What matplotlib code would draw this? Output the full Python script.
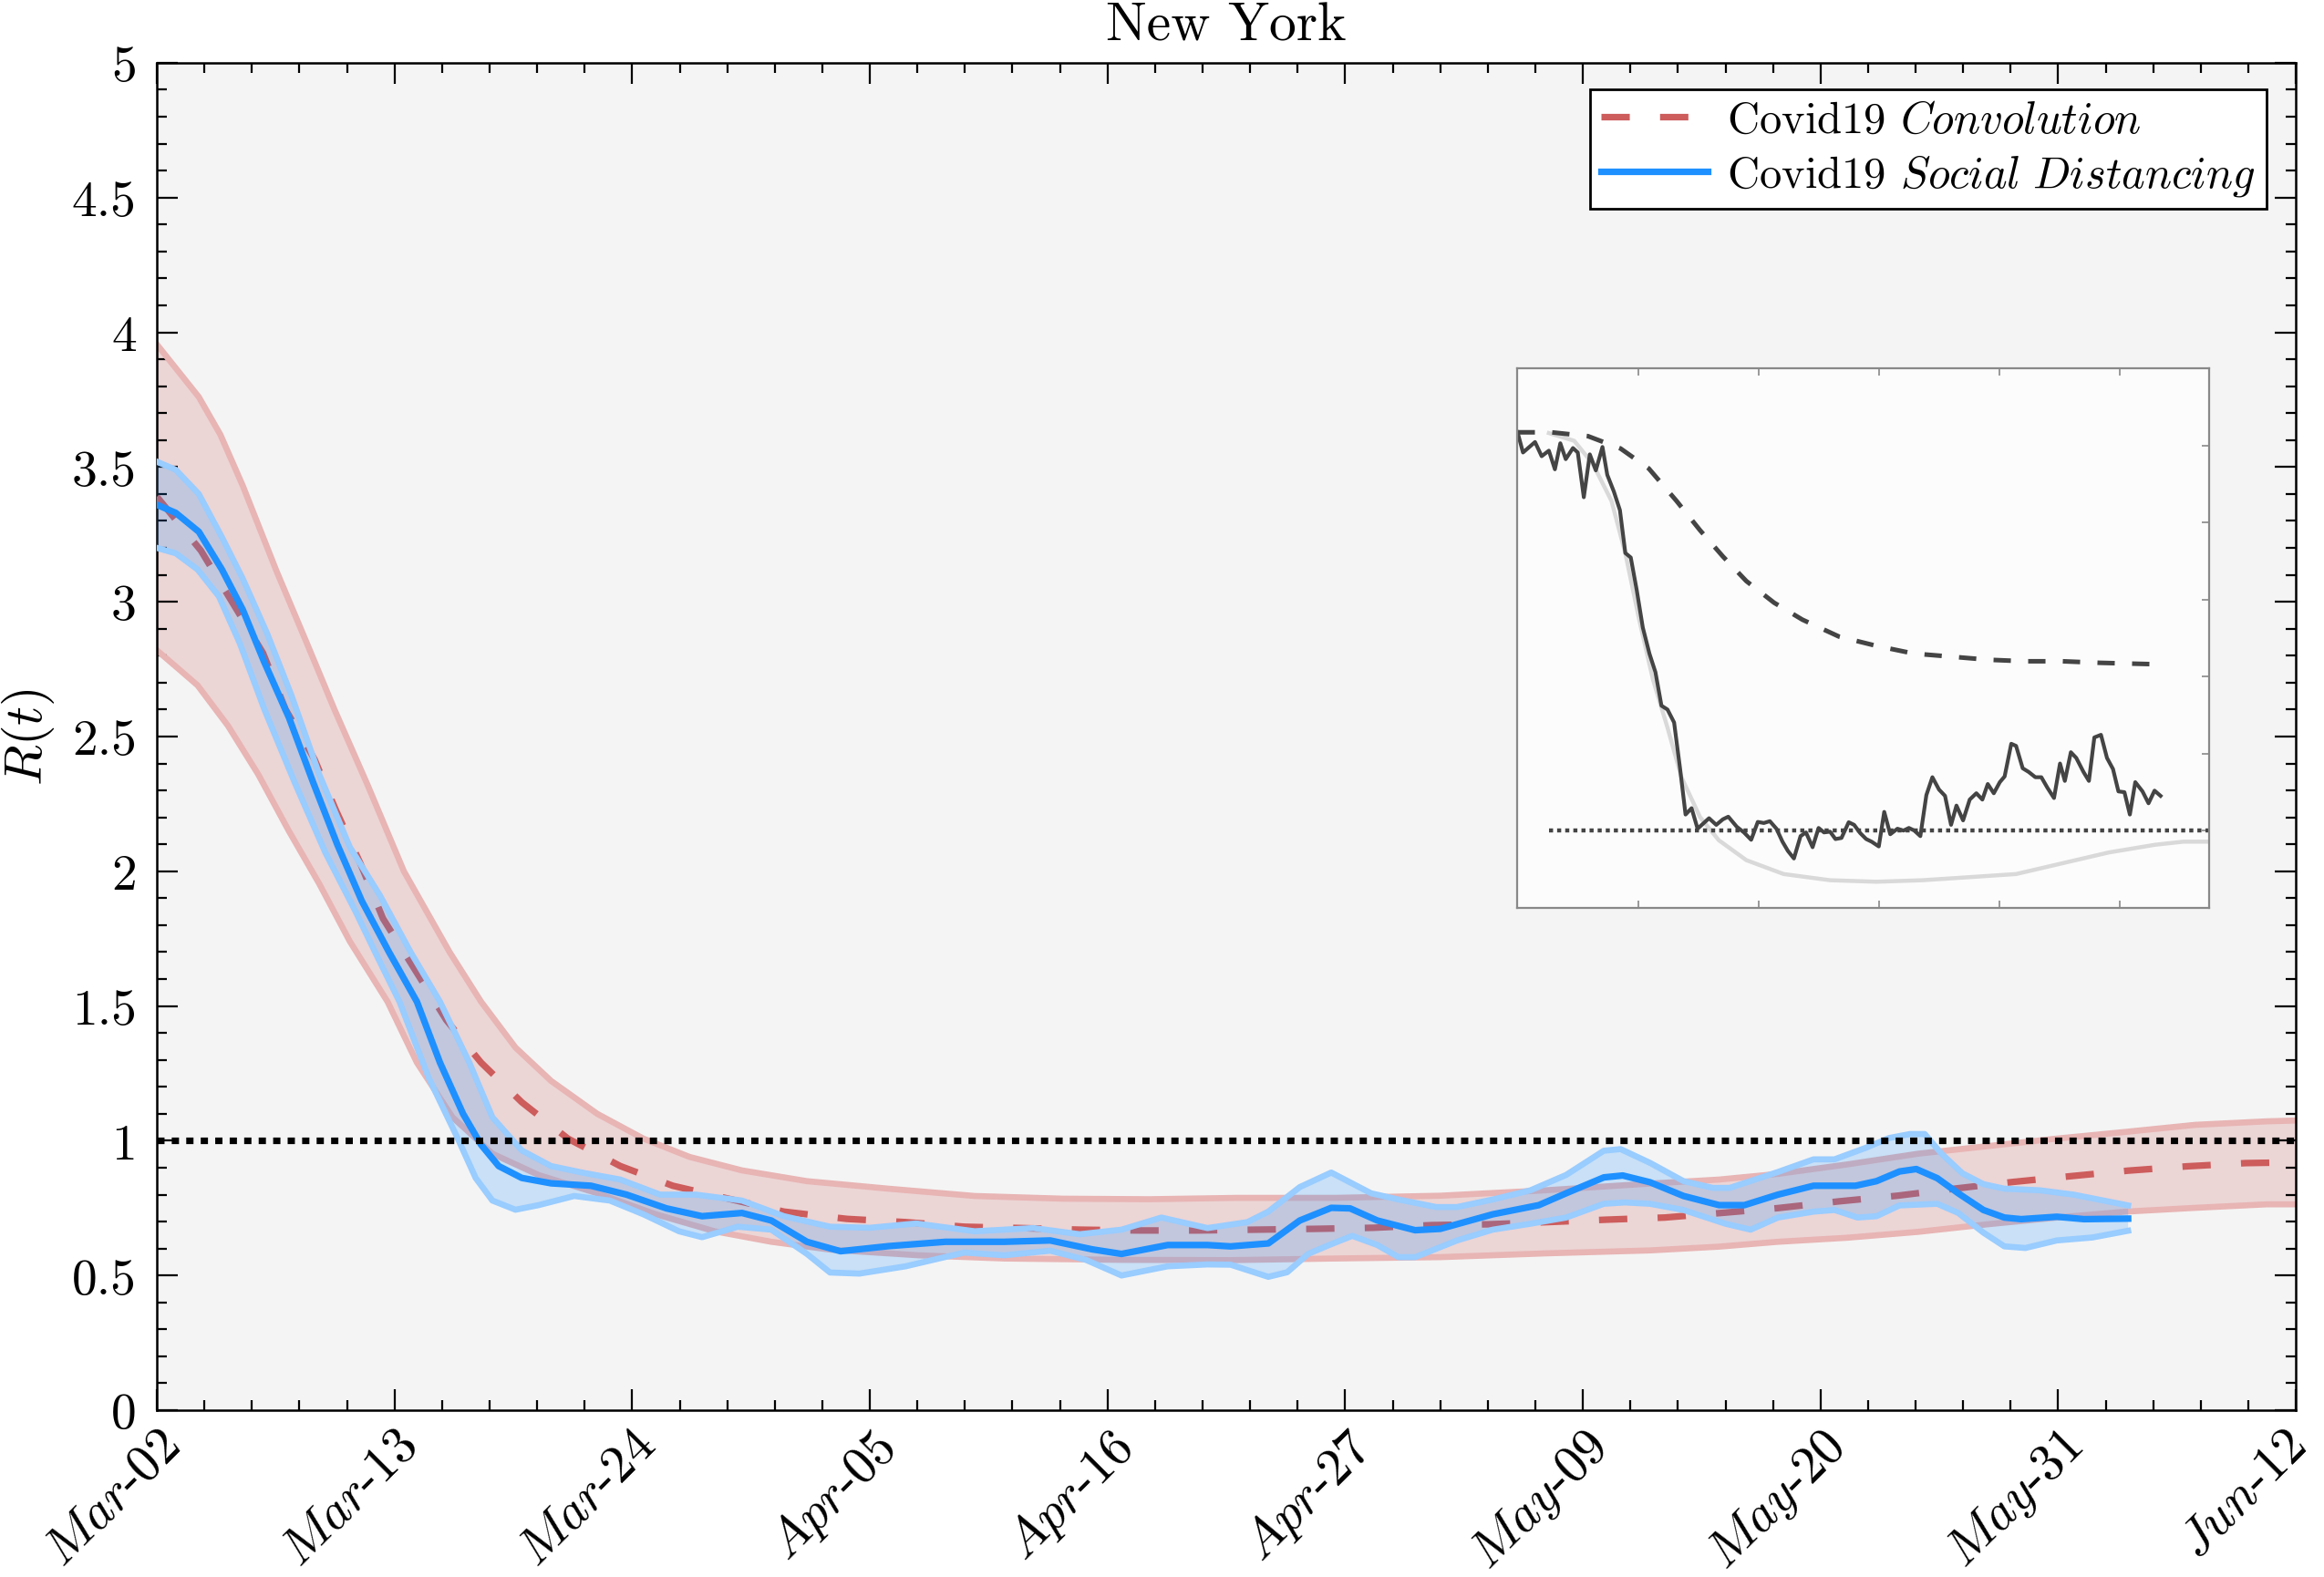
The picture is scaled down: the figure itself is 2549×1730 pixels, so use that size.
import numpy as np
import matplotlib
matplotlib.use("Agg")
import matplotlib.pyplot as plt
import matplotlib.transforms as mtransforms
from matplotlib.ticker import MultipleLocator, AutoMinorLocator, FuncFormatter

plt.rcParams["mathtext.fontset"] = "cm"
plt.rcParams["font.family"] = "serif"
plt.rcParams["font.serif"] = ["cmr10"]
plt.rcParams["axes.formatter.use_mathtext"] = True

# ── Data (days since Mar-02) ───────────────────────────────────────────────

date_labels = ["Mar-02", "Mar-13", "Mar-24", "Apr-05", "Apr-16",
               "Apr-27", "May-09", "May-20", "May-31", "Jun-12"]
n_days = 102

# Convolution model: mean and band
conv_x = [0, 2.1, 5.06, 6.14, 7.52, 8.54, 9.7, 10.78, 13.8, 15.46, 17.4, 19.6,
          22.1, 24.6, 29.9, 32.9, 35.7, 38.5, 41.2, 44.0, 46.8, 49.6, 52.4,
          55.2, 58.0, 60.8, 63.5, 66.3, 69.1, 71.9, 74.6, 77.3, 80.2, 83.0,
          85.7, 88.5, 91.2, 94.0, 96.8, 99.6, 102]
conv_y = [3.39, 3.19, 2.81, 2.60, 2.415, 2.226, 2.03, 1.825, 1.448, 1.29, 1.143,
          1.008, 0.906, 0.833, 0.737, 0.71, 0.698, 0.681, 0.676, 0.67, 0.667,
          0.667, 0.670, 0.673, 0.677, 0.687, 0.69, 0.698, 0.707, 0.715, 0.732,
          0.75, 0.775, 0.796, 0.822, 0.847, 0.868, 0.889, 0.905, 0.917, 0.92]

conv_hi_x = [0, 2.0, 3.03, 4.1, 5.7, 7.16, 8.47, 10.05, 11.78, 13.96, 15.46,
             17.1, 18.8, 21.0, 23.2, 25.4, 27.9, 31.0, 34.9, 39.0, 43.2, 47.3,
             51.5, 56.2, 61.2, 66.2, 71.2, 74.5, 77.3, 80.6, 84.0, 87.3, 90.6,
             93.9, 97.2, 100.6, 102]
conv_hi_y = [3.955, 3.76, 3.62, 3.43, 3.115, 2.845, 2.60, 2.32, 2.0, 1.70, 1.516,
             1.346, 1.222, 1.10, 1.008, 0.94, 0.89, 0.85, 0.822, 0.795, 0.785,
             0.783, 0.788, 0.788, 0.796, 0.816, 0.841, 0.856, 0.877, 0.912,
             0.952, 0.98, 1.008, 1.033, 1.059, 1.072, 1.075]

conv_lo_x = [0, 0.9, 1.94, 3.39, 4.83, 6.29, 7.74, 9.2, 11.0, 12.4, 14.1, 16.0,
             18.2, 21.0, 23.8, 26.6, 29.3, 32.1, 36.3, 40.4, 46.0, 51.2, 56.2,
             61.2, 66.2, 71.2, 74.5, 77.3, 80.6, 84.0, 87.3, 90.6, 93.9, 97.2,
             100.6, 102]
conv_lo_y = [2.82, 2.76, 2.69, 2.54, 2.36, 2.15, 1.954, 1.74, 1.516, 1.29, 1.087,
             0.952, 0.873, 0.805, 0.727, 0.664, 0.625, 0.596, 0.575, 0.563,
             0.558, 0.557, 0.563, 0.568, 0.582, 0.593, 0.607, 0.625, 0.64,
             0.662, 0.69, 0.715, 0.737, 0.751, 0.764, 0.764]

# Social distancing model: mean and band
sd_x = [0, 0.9, 2.0, 3.1, 4.1, 5.1, 6.3, 7.45, 8.6, 9.77, 11.07, 12.4, 13.5,
        14.6, 15.46, 16.3, 17.4, 18.8, 20.7, 22.4, 24.3, 26.0, 27.9, 29.3,
        31.0, 32.6, 34.9, 37.6, 40.4, 42.6, 44.6, 46.0, 48.2, 50.1, 51.2,
        53.0, 54.5, 56.0, 56.9, 58.2, 60.0, 61.2, 63.7, 65.9, 67.2, 69.0,
        69.9, 71.2, 72.8, 74.5, 75.7, 77.3, 79.0, 81.0, 82.0, 83.1, 83.9,
        84.9, 85.9, 87.1, 88.1, 88.9, 90.6, 91.9, 94.0]
sd_y = [3.36, 3.33, 3.26, 3.12, 2.97, 2.78, 2.57, 2.33, 2.10, 1.89, 1.70, 1.516,
        1.29, 1.10, 0.985, 0.906, 0.862, 0.842, 0.833, 0.80, 0.749, 0.72,
        0.732, 0.704, 0.625, 0.59, 0.609, 0.625, 0.625, 0.63, 0.597, 0.58,
        0.613, 0.613, 0.608, 0.619, 0.704, 0.751, 0.749, 0.704, 0.668, 0.673,
        0.727, 0.761, 0.805, 0.864, 0.871, 0.846, 0.795, 0.761, 0.761, 0.80,
        0.833, 0.833, 0.85, 0.886, 0.895, 0.861, 0.805, 0.743, 0.715, 0.709,
        0.718, 0.709, 0.711]

sd_hi_x = [0, 0.9, 2.0, 3.1, 4.1, 5.27, 6.43, 7.74, 9.2, 10.64, 12.1, 13.5,
           14.9, 16.0, 17.4, 18.8, 20.4, 22.1, 24.0, 25.7, 27.9, 29.9, 32.1,
           34.0, 36.2, 39.0, 41.8, 44.0, 46.0, 47.9, 50.1, 52.0, 53.0, 54.5,
           56.0, 57.9, 59.2, 61.0, 62.0, 63.7, 65.5, 67.2, 69.0, 69.8, 71.2,
           72.8, 74.2, 75.0, 77.3, 79.0, 80.0, 81.5, 82.6, 83.6, 84.3, 85.1,
           86.1, 87.1, 88.1, 89.8, 91.4, 94.0]
sd_hi_y = [3.52, 3.49, 3.40, 3.24, 3.085, 2.88, 2.65, 2.36, 2.09, 1.91, 1.70,
           1.516, 1.29, 1.087, 0.964, 0.906, 0.88, 0.856, 0.80, 0.80, 0.778,
           0.72, 0.681, 0.677, 0.693, 0.664, 0.676, 0.653, 0.67, 0.715, 0.676,
           0.698, 0.737, 0.828, 0.882, 0.805, 0.782, 0.754, 0.754, 0.782,
           0.816, 0.873, 0.963, 0.969, 0.918, 0.85, 0.825, 0.825, 0.884,
           0.931, 0.931, 0.974, 1.01, 1.025, 1.025, 0.952, 0.879, 0.839,
           0.822, 0.816, 0.80, 0.76]

sd_lo_x = [0, 0.9, 1.94, 2.96, 3.96, 5.13, 6.57, 8.03, 9.48, 10.5, 11.57,
           12.96, 14.35, 15.2, 16.0, 17.1, 18.2, 19.9, 21.6, 23.2, 24.9, 26.0,
           27.7, 29.3, 31.0, 32.1, 33.5, 35.7, 38.5, 40.4, 42.6, 44.3, 46.0,
           48.2, 50.1, 51.2, 53.0, 53.9, 54.9, 55.9, 57.0, 58.2, 59.2, 60.0,
           62.0, 63.7, 65.5, 67.2, 69.0, 70.0, 71.2, 72.8, 74.8, 76.0, 77.3,
           79.0, 80.0, 81.1, 82.0, 83.1, 84.9, 85.9, 87.1, 88.1, 89.1, 90.6,
           92.3, 94.0]
sd_lo_y = [3.20, 3.18, 3.12, 3.02, 2.845, 2.60, 2.33, 2.07, 1.85, 1.685,
           1.516, 1.234, 1.008, 0.862, 0.778, 0.744, 0.761, 0.795, 0.778,
           0.727, 0.664, 0.642, 0.681, 0.67, 0.58, 0.511, 0.507, 0.534,
           0.585, 0.575, 0.592, 0.558, 0.50, 0.534, 0.541, 0.540, 0.495,
           0.512, 0.58, 0.613, 0.647, 0.613, 0.568, 0.568, 0.63, 0.67, 0.692,
           0.715, 0.766, 0.771, 0.766, 0.743, 0.692, 0.67, 0.715, 0.737,
           0.743, 0.715, 0.72, 0.76, 0.766, 0.732, 0.659, 0.608, 0.602,
           0.630, 0.641, 0.666]

threshold = 1.0

# Inset (unlabelled): raw daily estimate, convolution and smooth fit
ins_raw_x = [0, 0.9, 2.9, 4.0, 5.2, 6.2, 7.1, 8.0, 9.2, 10.0, 11.0, 12.0, 13.0,
             14.1, 14.9, 16.0, 17.0, 17.9, 18.8, 19.8, 20.8, 21.9, 22.9, 23.9,
             24.9, 26.0, 27.0, 27.9, 28.9, 29.9, 30.6, 31.8, 33.0, 34.1, 35.0,
             36.4, 37.6, 38.8, 39.9, 40.9, 41.9, 43.0, 44.0, 44.9, 45.9, 47.0,
             47.9, 49.0, 50.0, 50.9, 51.9, 52.8, 53.8, 55.0, 55.9, 56.9, 57.9,
             58.8, 60.0, 60.9, 61.9, 63.1, 64.1, 65.0, 65.9, 66.9, 67.9, 68.9,
             70.0, 71.0, 72.0, 72.9, 74.0, 75.1, 76.2, 77.2, 78.1, 79.1, 80.1,
             80.9, 82.0, 82.8, 83.9, 84.9, 86.0, 87.0, 88.0, 89.1, 90.1, 90.9,
             91.9, 92.8, 94.0, 94.9, 95.8, 96.9, 97.9, 98.9, 99.8, 100.8,
             101.7, 102.6, 103.8, 104.8, 105.8, 106.8]
ins_raw_y = [3.585, 3.454, 3.522, 3.430, 3.466, 3.345, 3.514, 3.411, 3.483,
             3.454, 3.164, 3.442, 3.338, 3.490, 3.309, 3.200, 3.080, 2.802,
             2.773, 2.560, 2.319, 2.150, 2.029, 1.812, 1.787, 1.703, 1.401,
             1.106, 1.147, 1.014, 1.039, 1.082, 1.039, 1.075, 1.092, 1.027,
             0.990, 0.942, 1.058, 1.051, 1.063, 1.014, 0.930, 0.870, 0.821,
             0.966, 0.990, 0.894, 1.019, 0.990, 0.995, 0.947, 0.954, 1.056,
             1.039, 0.986, 0.947, 0.930, 0.899, 1.123, 0.978, 1.014, 1.002,
             1.019, 1.002, 0.966, 1.232, 1.348, 1.268, 1.227, 1.039, 1.164,
             1.068, 1.203, 1.244, 1.203, 1.304, 1.244, 1.316, 1.353, 1.565,
             1.551, 1.406, 1.382, 1.348, 1.348, 1.280, 1.213, 1.437, 1.324,
             1.510, 1.473, 1.382, 1.324, 1.606, 1.623, 1.473, 1.401, 1.256,
             1.251, 1.106, 1.316, 1.256, 1.179, 1.261, 1.227]

ins_conv_x = [0, 5.6, 11.7, 17.1, 21.8, 26.4, 30.3, 34.1, 38.0, 42.6, 47.3,
              53.4, 59.6, 65.8, 72.0, 78.1, 84.3, 90.5, 96.7, 106.7]
ins_conv_y = [3.585, 3.585, 3.56, 3.48, 3.35, 3.14, 2.95, 2.78, 2.62, 2.48,
              2.37, 2.26, 2.20, 2.15, 2.13, 2.11, 2.10, 2.10, 2.09, 2.08]

ins_fit_x = [5.2, 9.4, 12.5, 15.6, 17.9, 20.2, 22.5, 24.9, 27.2, 30.3, 33.4,
             38.0, 44.2, 51.9, 59.6, 67.3, 75.1, 82.8, 90.5, 98.2, 105.9,
             110.6, 114.8]
ins_fit_y = [3.58, 3.53, 3.38, 3.14, 2.80, 2.37, 1.98, 1.67, 1.35, 1.09, 0.94,
             0.81, 0.72, 0.68, 0.67, 0.68, 0.70, 0.72, 0.79, 0.86, 0.91, 0.93,
             0.93]
ins_dot_start = 5.2

# ── Figure ────────────────────────────────────────────────────────────────

RED = "#CD5C5C"
RED_EDGE = "#E8B4B4"
BLUE = "#1E90FF"
BLUE_EDGE = "#99CCFF"

fig = plt.figure(figsize=(12.745, 8.655), dpi=200)
ax = fig.add_axes([0.0675, 0.1057, 0.9204, 0.8539])
ax.set_facecolor("#F4F4F4")

# convolution band
ax.fill(np.r_[conv_hi_x, conv_lo_x[::-1]], np.r_[conv_hi_y, conv_lo_y[::-1]],
        color=RED, alpha=0.2, lw=0, zorder=1)
ax.plot(conv_hi_x, conv_hi_y, color=RED_EDGE, lw=2.4, zorder=2)
ax.plot(conv_lo_x, conv_lo_y, color=RED_EDGE, lw=2.4, zorder=2)
ax.plot(conv_x, conv_y, color=RED, lw=2.6, dashes=(4.3, 4.6), zorder=3,
        label=r"Covid19 $\mathit{Convolution}$")

# social distancing band
ax.fill(np.r_[sd_hi_x, sd_lo_x[::-1]], np.r_[sd_hi_y, sd_lo_y[::-1]],
        color=BLUE, alpha=0.2, lw=0, zorder=4)
ax.plot(sd_hi_x, sd_hi_y, color=BLUE_EDGE, lw=2.4, zorder=5)
ax.plot(sd_lo_x, sd_lo_y, color=BLUE_EDGE, lw=2.4, zorder=5)
ax.plot(sd_x, sd_y, color=BLUE, lw=2.6, zorder=6,
        label=r"Covid19 $\mathit{Social\ Distancing}$")

ax.axhline(threshold, color="black", lw=2.6, dashes=(1.1, 1.1), zorder=7)

ax.set_xlim(0, n_days)
ax.set_ylim(0, 5)
ax.set_xticks(np.linspace(0, n_days, len(date_labels)))
ax.xaxis.set_minor_locator(AutoMinorLocator(5))
ax.yaxis.set_major_locator(MultipleLocator(0.5))
ax.yaxis.set_minor_locator(MultipleLocator(0.1))
ax.yaxis.set_major_formatter(FuncFormatter(lambda v, _: f"{v:g}"))

ax.set_xticklabels([rf"$\mathit{{{d[:3]}}}$-$\mathrm{{{d[4:]}}}$" for d in date_labels],
                   rotation=45, ha="right", va="top", rotation_mode="anchor",
                   fontsize=20.5)

ax.tick_params(which="both", direction="in", top=True, right=True, width=0.8)
ax.tick_params(axis="y", labelsize=20)
ax.tick_params(which="major", length=8.3)
ax.tick_params(which="minor", length=3.9)
ax.tick_params(axis="y", pad=8)
ax.tick_params(axis="x", pad=4.5)
for sp in ax.spines.values():
    sp.set_linewidth(0.9)

# nudge the last date label so it stays inside the canvas
last = ax.get_xticklabels()[-1]
last.set_transform(last.get_transform() +
                   mtransforms.ScaledTranslation(-5 / 72, 0, fig.dpi_scale_trans))

ax.set_ylabel(r"$R(t)$", fontsize=21)
ax.yaxis.set_label_coords(-0.047, 0.5)
ax.set_title("New York", fontsize=21.5, pad=9)

leg = ax.legend(loc="upper right", bbox_to_anchor=(0.9864, 0.980),
                borderaxespad=0, fontsize=17.5, fancybox=False, framealpha=1,
                edgecolor="black", handlelength=2.4, handletextpad=0.45,
                borderpad=0.25, labelspacing=0.25)
leg.get_frame().set_linewidth(1.0)
leg.set_zorder(10)

# ── Inset ─────────────────────────────────────────────────────────────────

ins = fig.add_axes([0.6530, 0.4240, 0.2974, 0.3420])
ins.set_facecolor("#FCFCFC")
ins.plot(ins_fit_x, ins_fit_y, color="#D9D9D9", lw=1.6)
ins.plot(ins_conv_x, ins_conv_y, color="#444444", lw=1.8, dashes=(3.8, 3.8))
ins.plot(ins_raw_x, ins_raw_y, color="#444444", lw=1.5)
ins.hlines(threshold, ins_dot_start, 114.8, color="#444444", lw=1.6,
           linestyles=(0, (1, 1)))
ins.set_xlim(0, 114.8)
ins.set_ylim(0.5, 4.0)
ins.set_xticks([20, 40, 60, 80, 100])
ins.set_yticks([1, 1.5, 2, 2.5, 3, 3.5])
ins.tick_params(direction="in", top=True, bottom=True, left=False, right=True,
                labelbottom=False, labelleft=False, color="#888888",
                length=3, width=0.6)
for sp in ins.spines.values():
    sp.set_color("#888888")
    sp.set_linewidth(0.8)

fig.savefig("out.png", dpi=200)
